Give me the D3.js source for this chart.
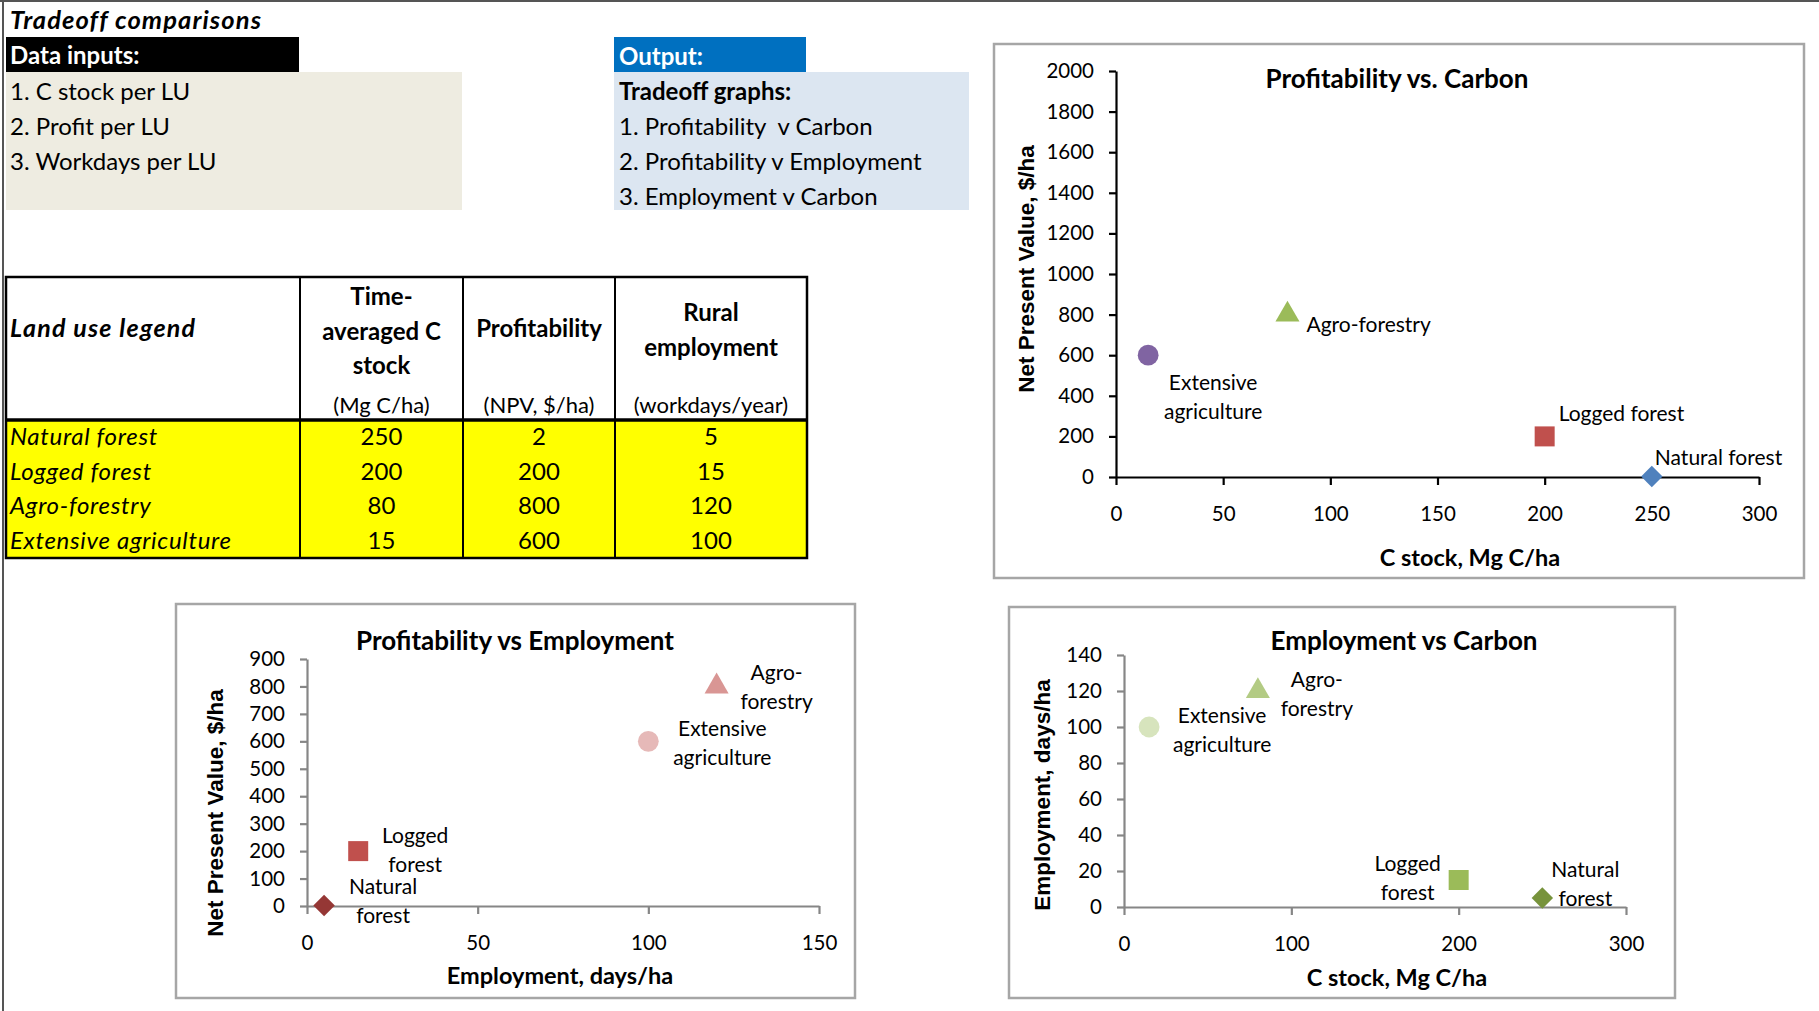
<!DOCTYPE html>
<html><head><meta charset="utf-8">
<script src="https://cdn.jsdelivr.net/npm/d3@7"></script>
<style>
body{margin:0;background:#fff;}
svg{display:block;}
text{font-family:Lato,"Open Sans",sans-serif;fill:#000;}
</style></head>
<body>
<svg id="c" width="1819" height="1011"></svg>
<script>
// ---- data ----
const landUses = ["Natural forest","Logged forest","Agro-forestry","Extensive agriculture"];
const cStock = [250, 200, 80, 15];          // Mg C/ha
const profit = [2, 200, 800, 600];          // NPV, $/ha
const employment = [5, 15, 120, 100];       // workdays/year
const inputItems = ["1. C stock per LU","2. Profit per LU","3. Workdays per LU"];
const outputItems = ["1. Profitability  v Carbon","2. Profitability v Employment","3. Employment v Carbon"];
const tableHeaders = [["Time-","averaged C","stock"],["Profitability"],["Rural","employment"]];
const tableUnits = ["(Mg C/ha)","(NPV, $/ha)","(workdays/year)"];
const ticksC1Y = [0,200,400,600,800,1000,1200,1400,1600,1800,2000];
const ticksC1X = [0,50,100,150,200,250,300];
const ticksC2Y = [0,100,200,300,400,500,600,700,800,900];
const ticksC2X = [0,50,100,150];
const ticksC3Y = [0,20,40,60,80,100,120,140];
const ticksC3X = [0,100,200,300];
const labels1 = [["Natural forest"],["Logged forest"],["Agro-forestry"],["Extensive","agriculture"]];
const labels2 = [["Natural","forest"],["Logged","forest"],["Agro-","forestry"],["Extensive","agriculture"]];

const svg = d3.select("#c");
const FONT = 'Lato,"Open Sans",sans-serif';
const FS = 24;

// page frame
svg.append("line").attr("x1",0).attr("x2",1819).attr("y1",1).attr("y2",1).attr("stroke","#555").attr("stroke-width",2);
svg.append("line").attr("x1",3).attr("x2",3).attr("y1",0).attr("y2",1011).attr("stroke","#555").attr("stroke-width",2);

function italic(sel, ls){ return sel.attr("font-style","italic").attr("letter-spacing",ls==null?0.7:ls); }

// header
italic(svg.append("text").attr("x",10).attr("y",29).attr("font-size",25.5).attr("font-weight","bold"),1.1).text("Tradeoff comparisons");
svg.append("rect").attr("x",6).attr("y",37).attr("width",293).attr("height",35).attr("fill","#000");
svg.append("text").attr("x",10).attr("y",64).attr("font-size",FS).attr("font-weight","bold").style("fill","#fff").text("Data inputs:");
svg.append("rect").attr("x",6).attr("y",72).attr("width",456).attr("height",138).attr("fill","#EEECE1");
svg.selectAll(".inp").data(inputItems).join("text").attr("x",10).attr("y",(d,i)=>100+i*35).attr("font-size",FS).text(d=>d);

svg.append("rect").attr("x",614).attr("y",37).attr("width",192).attr("height",35).attr("fill","#0070C0");
svg.append("text").attr("x",619).attr("y",65).attr("font-size",FS).attr("font-weight","bold").style("fill","#fff").text("Output:");
svg.append("rect").attr("x",614).attr("y",72).attr("width",355).attr("height",138).attr("fill","#DCE6F1");
svg.append("text").attr("x",619).attr("y",100).attr("font-size",FS).attr("font-weight","bold").text("Tradeoff graphs:");
svg.selectAll(".out").data(outputItems).join("text").attr("x",619).attr("y",(d,i)=>135+i*35).attr("font-size",FS).attr("xml:space","preserve").style("white-space","pre").text(d=>d);

// table
const colX = [6,300,463,615,807];
const tTop = 277, hBot = 420, rowH = 34.5;
const tBot = hBot + rowH*4;
svg.append("rect").attr("x",6).attr("y",hBot).attr("width",801).attr("height",tBot-hBot).attr("fill","#FFFF00");
italic(svg.append("text").attr("x",10).attr("y",337).attr("font-size",FS+1).attr("font-weight","bold"),1.2).text("Land use legend");
tableHeaders.forEach((lines,ci)=>{
  const cx = (colX[ci+1]+colX[ci+2])/2;
  const startY = lines.length===3 ? 305 : (lines.length===2 ? 321 : 337);
  lines.forEach((l,li)=>svg.append("text").attr("x",cx).attr("y",startY+li*34.5).attr("text-anchor","middle").attr("font-size",FS).attr("font-weight","bold").text(l));
  svg.append("text").attr("x",cx).attr("y",413).attr("text-anchor","middle").attr("font-size",22).text(tableUnits[ci]);
});
const cols = [cStock, profit, employment];
landUses.forEach((lu,ri)=>{
  const y = hBot + rowH*ri + rowH/2 + 8;
  italic(svg.append("text").attr("x",10).attr("y",y).attr("font-size",FS)).text(lu);
  cols.forEach((arr,ci)=>{
    svg.append("text").attr("x",(colX[ci+1]+colX[ci+2])/2).attr("y",y).attr("text-anchor","middle").attr("font-size",FS).text(arr[ri]);
  });
});
svg.append("rect").attr("x",6).attr("y",tTop).attr("width",801).attr("height",tBot-tTop).attr("fill","none").attr("stroke","#000").attr("stroke-width",2.5);
svg.append("line").attr("x1",6).attr("x2",807).attr("y1",hBot).attr("y2",hBot).attr("stroke","#000").attr("stroke-width",3.5);
colX.slice(1,4).forEach(x=>svg.append("line").attr("x1",x).attr("x2",x).attr("y1",tTop).attr("y2",tBot).attr("stroke","#000").attr("stroke-width",2));

// charts
function marker(shape, size){
  if(shape==="diamond") return {path:d3.symbol(d3.symbolSquare, size)(), rot:45};
  if(shape==="square") return {path:d3.symbol(d3.symbolSquare, size)(), rot:0};
  if(shape==="triangle") return {path:d3.symbol(d3.symbolTriangle, size)(), rot:0};
  return {path:d3.symbol(d3.symbolCircle, size)(), rot:0};
}
const shapes = ["diamond","square","triangle","circle"];
const sizes = [230,400,250,340];

function drawChart(cfg){
  const g = svg.append("g");
  g.append("rect").attr("x",cfg.box[0]).attr("y",cfg.box[1]).attr("width",cfg.box[2]-cfg.box[0]).attr("height",cfg.box[3]-cfg.box[1])
    .attr("fill","#fff").attr("stroke","#A6A6A6").attr("stroke-width",2.5);
  const x = d3.scaleLinear().domain([0,cfg.xMax]).range(cfg.xr);
  const y = d3.scaleLinear().domain([0,cfg.yMax]).range(cfg.yr);
  const ya = g.append("g").attr("transform",`translate(${cfg.xr[0]},0)`)
    .call(d3.axisLeft(y).tickValues(cfg.yTicks).tickFormat(d3.format("d")).tickSize(7).tickSizeOuter(0).tickPadding(15));
  const xa = g.append("g").attr("transform",`translate(0,${cfg.yr[0]})`)
    .call(d3.axisBottom(x).tickValues(cfg.xTicks).tickFormat(d3.format("d")).tickSize(8).tickSizeOuter(0).tickPadding(21));
  [ya,xa].forEach(a=>{
    a.selectAll("path,line").attr("stroke",cfg.axisColor).attr("stroke-width",2.2);
    a.selectAll("text").attr("font-family",FONT).attr("font-size",20.5).attr("fill","#000");
  });
  g.append("text").attr("x",cfg.title[0]).attr("y",cfg.title[1]).attr("text-anchor","middle").attr("font-size",26).attr("font-weight","bold").text(cfg.titleText);
  g.append("text").attr("x",cfg.xt[0]).attr("y",cfg.xt[1]).attr("text-anchor","middle").attr("font-size",23.5).attr("font-weight","bold").text(cfg.xTitle);
  g.append("text").attr("transform",`translate(${cfg.yt[0]},${cfg.yt[1]}) rotate(-90)`).attr("text-anchor","middle")
    .style("font-family",'"Liberation Sans",Arial,sans-serif').attr("font-size",22.5).attr("font-weight","bold").text(cfg.yTitle);
  cfg.xs.forEach((xv,i)=>{
    const m = marker(shapes[i], sizes[i]);
    g.append("path").attr("d",m.path).attr("fill",cfg.colors[i])
      .attr("transform",`translate(${x(xv)},${y(cfg.ys[i])}) rotate(${m.rot})`);
  });
  cfg.xs.forEach((xv,i)=>{
    const px = x(xv), py = y(cfg.ys[i]);
    const off = cfg.offs[i];
    cfg.labels[i].forEach((l,li)=>{
      g.append("text").attr("x",px+off[0]).attr("y",py+off[1]+li*28.5+7).attr("text-anchor",off[2]).attr("font-size",21).text(l);
    });
  });
}

drawChart({
  box:[994,44,1804,578], xr:[1116,1759], yr:[477,71], xMax:300, yMax:2000,
  xTicks:ticksC1X, yTicks:ticksC1Y, axisColor:"#000",
  xs:cStock, ys:profit, colors:["#4F81BD","#C0504D","#9BBB59","#8064A2"],
  title:[1397,88], titleText:"Profitability vs. Carbon",
  xt:[1470,566], xTitle:"C stock, Mg C/ha",
  yt:[1034,269], yTitle:"Net Present Value, $/ha",
  labels:labels1,
  offs:[[3,-19,"start"],[14,-22,"start"],[19,10,"start"],[65,28,"middle"]]
});
drawChart({
  box:[176,604,855,998], xr:[307,819], yr:[906,659], xMax:150, yMax:900,
  xTicks:ticksC2X, yTicks:ticksC2Y, axisColor:"#868686",
  xs:employment, ys:profit, colors:["#953735","#C0504D","#D99694","#E6B9B8"],
  title:[515,650], titleText:"Profitability vs Employment",
  xt:[560,984], xTitle:"Employment, days/ha",
  yt:[223,813], yTitle:"Net Present Value, $/ha",
  labels:labels2,
  offs:[[59,-18,"middle"],[57,-15,"middle"],[60,-13,"middle"],[74,-12,"middle"]]
});
drawChart({
  box:[1009,607,1675,998], xr:[1124,1626], yr:[907,655], xMax:300, yMax:140,
  xTicks:ticksC3X, yTicks:ticksC3Y, axisColor:"#868686",
  xs:cStock, ys:employment, colors:["#77933C","#9BBB59","#B3CB84","#D7E4BD"],
  title:[1404,650], titleText:"Employment vs Carbon",
  xt:[1397,986], xTitle:"C stock, Mg C/ha",
  yt:[1050,795], yTitle:"Employment, days/ha",
  labels:labels2,
  offs:[[43,-28,"middle"],[-51,-16,"middle"],[59,-11,"middle"],[73,-11,"middle"]]
});
</script>
</body></html>
